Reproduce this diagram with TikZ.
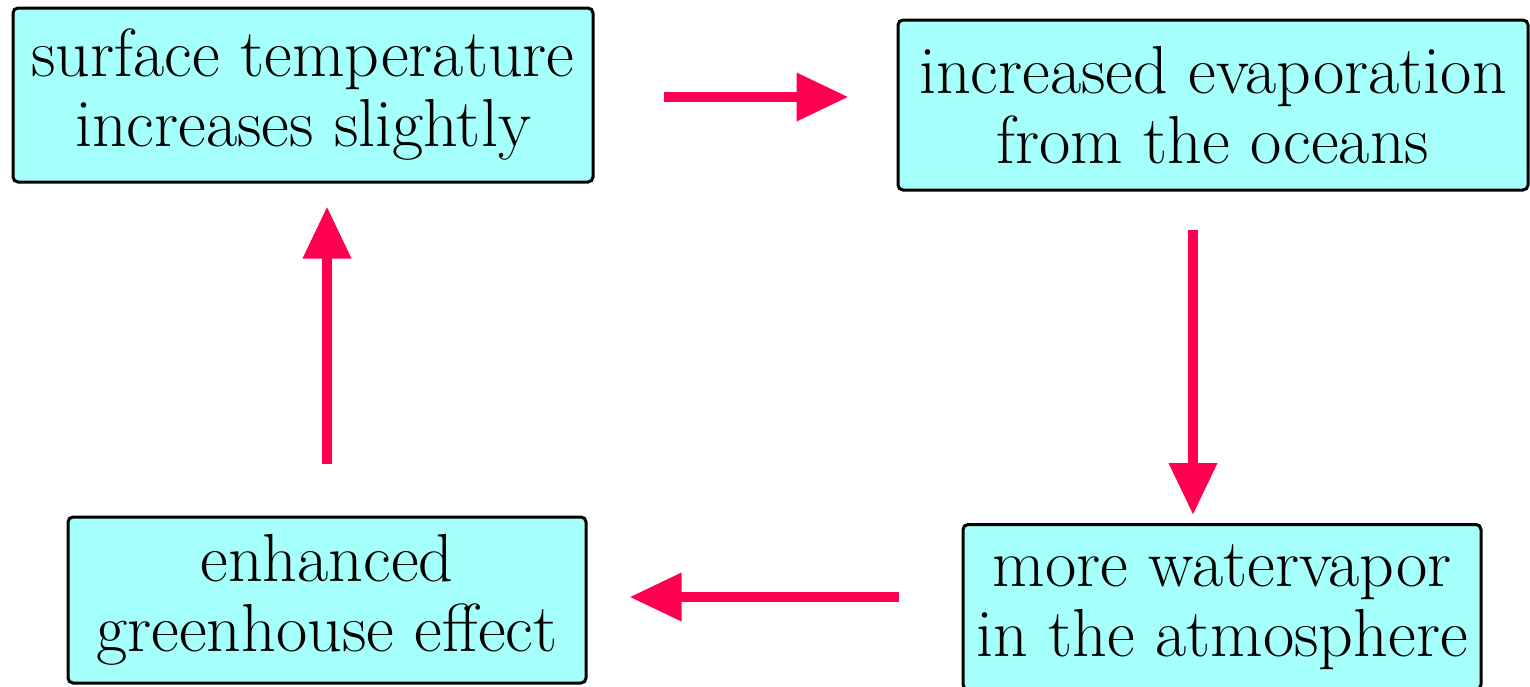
\documentclass[tikz,border=0pt]{standalone}
\usetikzlibrary{arrows.meta,calc}
\definecolor{boxfill}{RGB}{165,255,250}
\definecolor{arrred}{RGB}{255,0,80}
\begin{document}
\begin{tikzpicture}[x=1pt,y=-1pt,
  box/.style={draw=black,line width=3pt,fill=boxfill,rounded corners=5pt,
    inner sep=0pt,align=center,
    font=\fontsize{68}{70}\selectfont},
  arr/.style={draw=arrred,line width=10pt,
    -{Triangle[length=52pt,width=46pt]}}]
\useasboundingbox (0,0) rectangle (1530,686);
\node[box,minimum width=580pt,minimum height=174pt] (a) at (303,95)
  {surface temperature\\increases slightly};
\node[box,minimum width=630pt,minimum height=170pt] (b) at (1213,105)
  {increased evaporation\\from the oceans};
\node[box,minimum width=518pt,minimum height=165pt] (c) at (1222,607)
  {more watervapor\\in the atmosphere};
\node[box,minimum width=518pt,minimum height=166pt] (d) at (327,600)
  {enhanced\\greenhouse effect};
\draw[arr] ($(a.east)+(69,2)$) -- ($(b.west)+(-48,-8)$);
\draw[arr] ($(b.south)+(-20,38)$) -- ($(c.north)+(-29,-8)$);
\draw[arr] ($(c.west)+(-63,-10)$) -- ($(d.east)+(42,-3)$);
\draw[arr] ($(d.north)+(0,-52)$) -- ($(a.south)+(24,23)$);
\end{tikzpicture}
\end{document}
